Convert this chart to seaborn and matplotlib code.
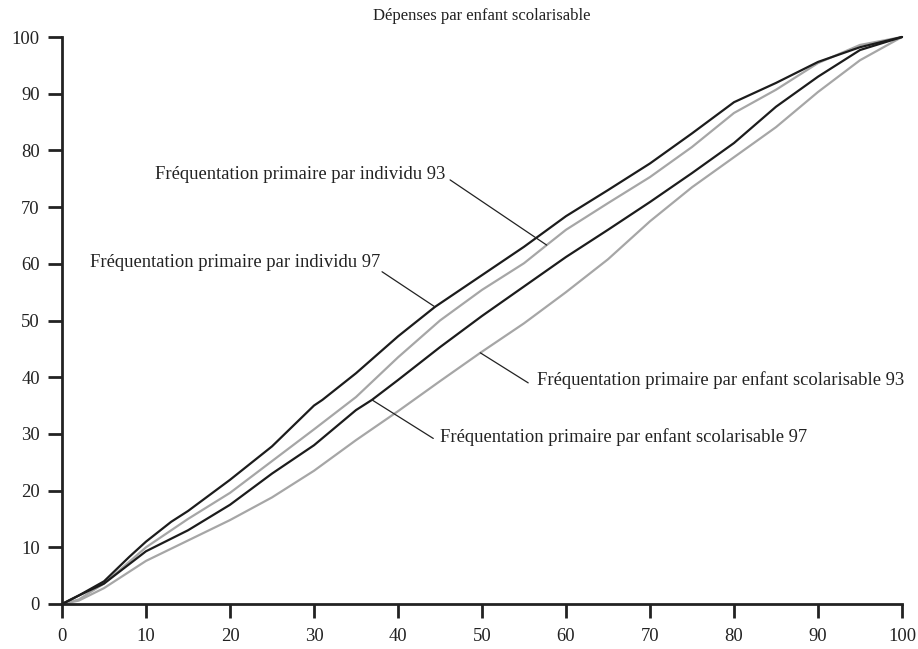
import matplotlib
matplotlib.use("Agg")
import matplotlib.pyplot as plt
import seaborn as sns
import pandas as pd

# ---- data ----
x_ind97 = [0, 2, 5, 8, 10, 13, 15, 20, 25, 30, 31, 35, 40, 44.4, 50, 55, 60, 65, 70, 75, 80, 85, 90, 95, 100]
y_ind97 = [0, 1.5, 4.0, 8.3, 11.0, 14.5, 16.4, 21.9, 27.8, 35.0, 36.0, 40.7, 47.2, 52.4, 58, 63, 68.4, 73, 77.7, 83, 88.5, 91.9, 95.6, 98.2, 100]

x_ind93 = [0, 2, 5, 10, 15, 20, 25, 30, 35, 40, 45, 50, 55, 57.7, 60, 65, 70, 75, 80, 85, 90, 95, 100]
y_ind93 = [0, 0.8, 3.6, 10.0, 15.0, 19.6, 25.2, 30.8, 36.5, 43.5, 50, 55.4, 60.1, 63.3, 66, 70.7, 75.3, 80.6, 86.6, 90.7, 95.4, 98.6, 100]

x_sco97 = [0, 2, 5, 10, 15, 20, 25, 30, 35, 36.9, 40, 45, 50, 55, 60, 65, 70, 75, 80, 85, 90, 95, 100]
y_sco97 = [0, 1.5, 3.6, 9.3, 13.0, 17.5, 23.0, 28.0, 34.2, 36.0, 39.5, 45.3, 50.8, 56, 61.2, 66, 70.9, 76, 81.3, 87.7, 93, 97.7, 100]

x_sco93 = [0, 2, 5, 10, 15, 20, 25, 30, 35, 40, 45, 49.8, 55, 60, 65, 70, 75, 80, 85, 90, 95, 100]
y_sco93 = [0, 0.6, 2.8, 7.6, 11.2, 14.8, 18.8, 23.5, 28.9, 34.0, 39.3, 44.3, 49.5, 55.0, 60.8, 67.5, 73.5, 78.8, 84.1, 90.3, 95.9, 100]

title = "Dépenses par enfant scolarisable"
lab_ind93 = "Fréquentation primaire par individu 93"
lab_ind97 = "Fréquentation primaire par individu 97"
lab_sco93 = "Fréquentation primaire par enfant scolarisable 93"
lab_sco97 = "Fréquentation primaire par enfant scolarisable 97"
ticks = list(range(0, 101, 10))

BLACK = "#1c1c1c"
GREY = "#a6a6a6"
TXT = "#222222"

sns.set_style("white")
plt.rcParams["font.family"] = ["Liberation Serif", "DejaVu Serif"]

fig = plt.figure(figsize=(9.18, 6.49), dpi=100)
ax = fig.add_axes([62 / 918, 45 / 649, 840 / 918, 567 / 649])

series = [
    (x_ind93, y_ind93, GREY),
    (x_sco93, y_sco93, GREY),
    (x_ind97, y_ind97, BLACK),
    (x_sco97, y_sco97, BLACK),
]
for xs, ys, col in series:
    df = pd.DataFrame({"x": xs, "y": ys})
    sns.lineplot(data=df, x="x", y="y", ax=ax, color=col, lw=1.6,
                 estimator=None, sort=False, clip_on=False)

ax.set_xlim(0, 100)
ax.set_ylim(0, 100)
ax.set_xticks(ticks)
ax.set_yticks(ticks)
ax.set_xlabel("")
ax.set_ylabel("")
for s in ["top", "right"]:
    ax.spines[s].set_visible(False)
for s in ["left", "bottom"]:
    ax.spines[s].set_linewidth(2.0)
    ax.spines[s].set_color(TXT)
ax.tick_params(axis="both", which="major", bottom=True, left=True, top=False, right=False,
               direction="out", length=10, width=2.0, color=TXT,
               labelsize=13.4, labelcolor=TXT)
ax.tick_params(axis="x", pad=7)
ax.tick_params(axis="y", pad=6)

ax.text(50, 103.7, title, ha="center", va="center", fontsize=12.0, color=TXT)

def label(text, txy, ha, start, end):
    ax.text(txy[0], txy[1], text, ha=ha, va="center", fontsize=13.4, color=TXT)
    ax.annotate("", xy=end, xytext=start,
                arrowprops=dict(arrowstyle="-", lw=0.9, color=TXT, shrinkA=0, shrinkB=0))

label(lab_ind93, (45.6, 75.7), "right", (46.2, 74.8), (57.7, 63.3))
label(lab_ind97, (37.9, 60.2), "right", (38.1, 58.6), (44.4, 52.4))
label(lab_sco93, (56.5, 39.5), "left", (55.5, 39.0), (49.8, 44.3))
label(lab_sco97, (45.0, 29.4), "left", (44.2, 29.2), (36.9, 36.0))

fig.savefig("out.png", dpi=100)
